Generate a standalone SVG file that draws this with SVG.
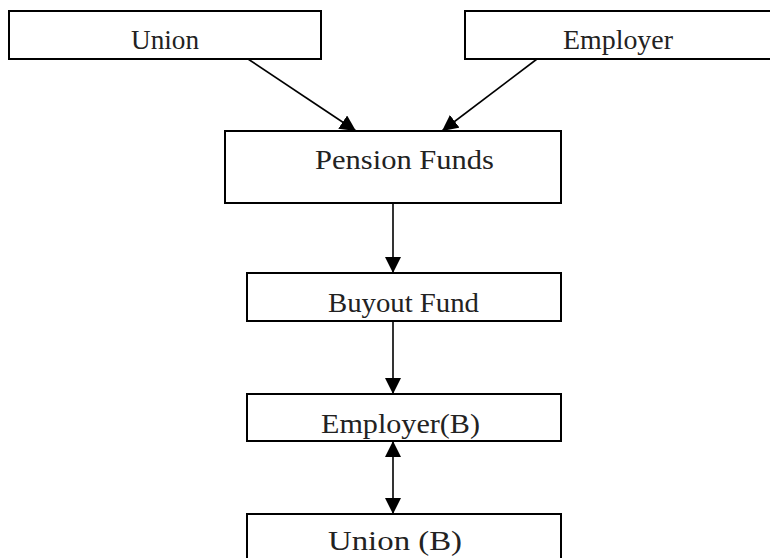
<svg xmlns="http://www.w3.org/2000/svg" width="770" height="558" viewBox="0 0 770 558">
<style>
.box{fill:#fff;stroke:#000;stroke-width:2}
.lbl{font-family:"Liberation Serif","DejaVu Serif",serif;font-size:27px;fill:#222}
.con{stroke:#000;stroke-width:1.6;fill:none}
</style>
<defs>
<marker id="ah" viewBox="0 0 10 10" refX="10" refY="5" markerWidth="10" markerHeight="10" markerUnits="userSpaceOnUse" orient="auto-start-reverse">
<path d="M0,0 L10,5 L0,10 z" fill="#000"/>
</marker>
<marker id="ahb" viewBox="0 0 16 16" refX="16" refY="8" markerWidth="16" markerHeight="16" markerUnits="userSpaceOnUse" orient="auto-start-reverse">
<path d="M0,0 L16,8 L0,16 z" fill="#000"/>
</marker>
</defs>
<rect width="770" height="558" fill="#fff"/>
<g id="connectors">
<line class="con" x1="248" y1="59" x2="356" y2="131" marker-end="url(#ahb)"/>
<line class="con" x1="537" y1="59" x2="442" y2="131" marker-end="url(#ahb)"/>
<line class="con" x1="393" y1="203" x2="393" y2="273" marker-end="url(#ahb)"/>
<line class="con" x1="393" y1="321" x2="393" y2="394" marker-end="url(#ahb)"/>
<line class="con" x1="393" y1="441" x2="393" y2="514" marker-start="url(#ahb)" marker-end="url(#ahb)"/>
</g>
<g id="union">
<rect class="box" x="9" y="11" width="312" height="48"/>
<text class="lbl" x="131" y="49" textLength="68" lengthAdjust="spacingAndGlyphs">Union</text>
</g>
<g id="employer">
<rect class="box" x="465" y="11" width="310" height="48"/>
<text class="lbl" x="563" y="49" textLength="110" lengthAdjust="spacingAndGlyphs">Employer</text>
</g>
<g id="pension-funds">
<rect class="box" x="225" y="131" width="336" height="72"/>
<text class="lbl" x="315" y="169" textLength="179" lengthAdjust="spacingAndGlyphs">Pension Funds</text>
</g>
<g id="buyout-fund">
<rect class="box" x="247" y="273" width="314" height="48"/>
<text class="lbl" x="328" y="312" textLength="151" lengthAdjust="spacingAndGlyphs">Buyout Fund</text>
</g>
<g id="employer-b">
<rect class="box" x="247" y="394" width="314" height="47"/>
<text class="lbl" x="321" y="433" textLength="159" lengthAdjust="spacingAndGlyphs">Employer(B)</text>
</g>
<g id="union-b">
<rect class="box" x="247" y="514" width="314" height="50"/>
<text class="lbl" x="328" y="550" textLength="134" lengthAdjust="spacingAndGlyphs">Union (B)</text>
</g>
</svg>
